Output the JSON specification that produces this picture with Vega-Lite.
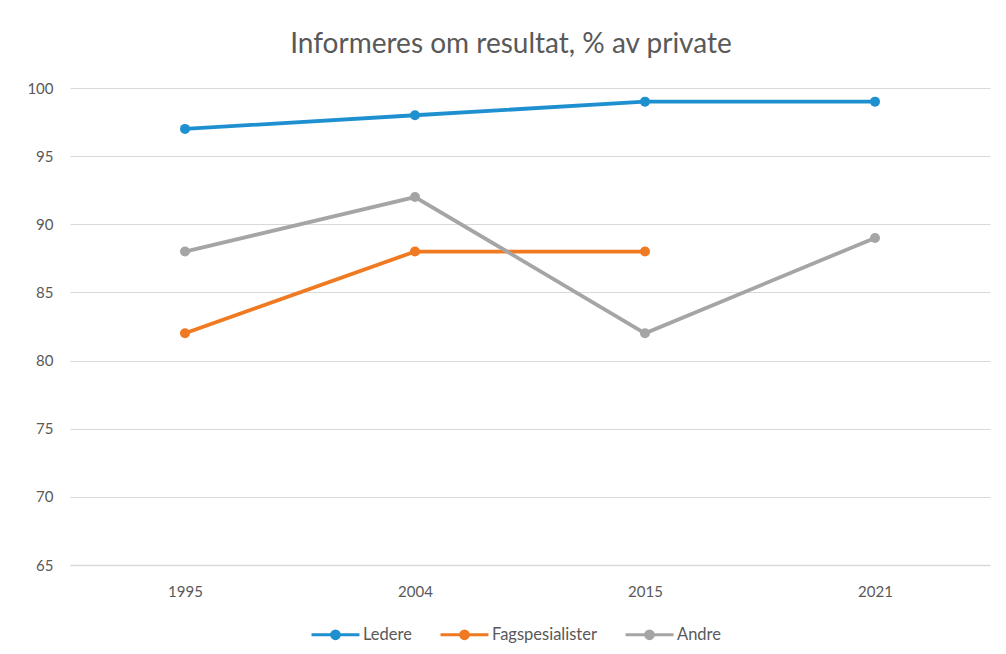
{
  "$schema": "https://vega.github.io/schema/vega-lite/v6.json",
  "width": 920,
  "height": 477,
  "autosize": {"type": "none"},
  "padding": {"left": 70, "top": 88, "right": 16, "bottom": 89},
  "background": "white",
  "title": {
    "text": "Informeres om resultat, % av private",
    "font": "Lato",
    "fontSize": 28,
    "fontWeight": "normal",
    "color": "#595959",
    "anchor": "middle",
    "frame": "group",
    "dx": -19,
    "offset": 22
  },
  "data": {
    "values": [
      {"year": "1995", "serie": "Ledere", "verdi": 97},
      {"year": "2004", "serie": "Ledere", "verdi": 98},
      {"year": "2015", "serie": "Ledere", "verdi": 99},
      {"year": "2021", "serie": "Ledere", "verdi": 99},
      {"year": "1995", "serie": "Fagspesialister", "verdi": 82},
      {"year": "2004", "serie": "Fagspesialister", "verdi": 88},
      {"year": "2015", "serie": "Fagspesialister", "verdi": 88},
      {"year": "1995", "serie": "Andre", "verdi": 88},
      {"year": "2004", "serie": "Andre", "verdi": 92},
      {"year": "2015", "serie": "Andre", "verdi": 82},
      {"year": "2021", "serie": "Andre", "verdi": 89}
    ]
  },
  "mark": {
    "type": "line",
    "strokeWidth": 3.8,
    "point": {"filled": true, "size": 100}
  },
  "encoding": {
    "x": {
      "field": "year",
      "type": "ordinal",
      "scale": {"type": "point", "padding": 0.5},
      "axis": {
        "title": null,
        "labelAngle": 0,
        "labelFont": "Lato",
        "labelFontSize": 15,
        "labelColor": "#595959",
        "labelPadding": 19,
        "ticks": false,
        "domainColor": "#d9d9d9",
        "domainWidth": 1.5,
        "grid": false
      }
    },
    "y": {
      "field": "verdi",
      "type": "quantitative",
      "scale": {"domain": [65, 100], "zero": false, "nice": false},
      "axis": {
        "title": null,
        "values": [65, 70, 75, 80, 85, 90, 95, 100],
        "labelFont": "Lato",
        "labelFontSize": 15,
        "labelColor": "#595959",
        "labelPadding": 17,
        "ticks": false,
        "domain": false,
        "gridColor": "#d9d9d9",
        "gridWidth": 1.2
      }
    },
    "color": {
      "field": "serie",
      "type": "nominal",
      "scale": {
        "domain": ["Ledere", "Fagspesialister", "Andre"],
        "range": ["#1e90d0", "#f07a22", "#a5a5a5"]
      },
      "legend": {
        "title": null,
        "orient": "none",
        "legendX": 240,
        "legendY": 521,
        "direction": "horizontal",
        "labelFont": "Lato",
        "labelFontSize": 16.5,
        "labelColor": "#595959",
        "labelOffset": 2,
        "columnPadding": 22,
        "symbolType": "M-1,0H1M0.16,0A0.16,0.16 0 1,1 -0.16,0A0.16,0.16 0 1,1 0.16,0Z",
        "symbolSize": 2300,
        "symbolStrokeWidth": 3,
        "encode": {
          "symbols": {
            "update": {
              "fill": {"scale": "color", "field": "value"},
              "stroke": {"scale": "color", "field": "value"},
              "opacity": {"value": 1}
            }
          }
        }
      }
    }
  },
  "config": {
    "view": {"stroke": null},
    "legend": {"symbolLimit": 0}
  }
}
